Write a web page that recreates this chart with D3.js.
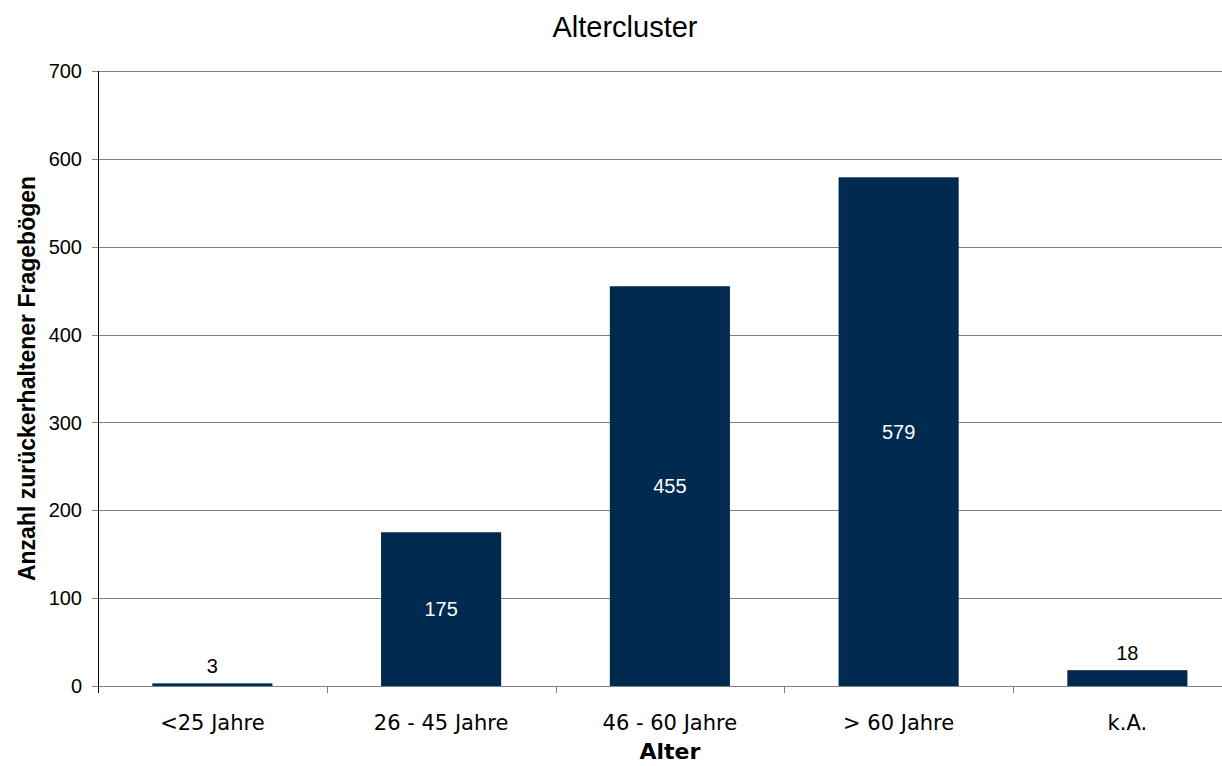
<!DOCTYPE html>
<html>
<head>
<meta charset="utf-8">
<script src="https://cdn.jsdelivr.net/npm/d3@7"></script>
<style>
  html, body { margin: 0; padding: 0; background: #fff; }
  svg { display: block; overflow: hidden; }
</style>
</head>
<body>
<svg id="chart" width="1222" height="766"></svg>
<script>
// Age groups and the number of returned questionnaires per group
const categories = ["<25 Jahre", "26 - 45 Jahre", "46 - 60 Jahre", "> 60 Jahre", "k.A."];
const counts = [3, 175, 455, 579, 18];
const yTicks = [0, 100, 200, 300, 400, 500, 600, 700];

const svg = d3.select("#chart");
const plotLeft = 98, plotTop = 71, plotBottom = 686;
const bandW = 228.75;
const plotRight = plotLeft + bandW * categories.length;

const x = d3.scaleBand().domain(categories).range([plotLeft, plotRight]).paddingInner(0.475).paddingOuter(0.2375);
const y = d3.scaleLinear().domain([0, 700]).range([plotBottom, plotTop]);

const sans = "'Liberation Sans', Arial, sans-serif";
const deja = "'DejaVu Sans', Verdana, sans-serif";

// horizontal gridlines
svg.append("g").selectAll("line").data(yTicks).join("line")
  .attr("x1", plotLeft - 6).attr("x2", plotRight)
  .attr("y1", d => Math.round(y(d)) + 0.5).attr("y2", d => Math.round(y(d)) + 0.5)
  .attr("stroke", "#808080").attr("stroke-width", 1);

// y tick labels
svg.append("g").selectAll("text").data(yTicks).join("text")
  .attr("x", plotLeft - 16).attr("y", d => y(d))
  .attr("dy", "0.36em").attr("text-anchor", "end")
  .attr("font-family", sans).attr("font-size", 20)
  .attr("fill", "#000").text(d => d);

// x-axis category separators
const edges = d3.range(categories.length + 1).map(i => plotLeft + i * bandW);
svg.append("g").selectAll("line").data(edges.slice(1)).join("line")
  .attr("x1", d => Math.round(d) + 0.5).attr("x2", d => Math.round(d) + 0.5)
  .attr("y1", plotBottom).attr("y2", plotBottom + 7)
  .attr("stroke", "#808080");

// bars
svg.append("g").selectAll("rect").data(categories).join("rect")
  .attr("x", d => x(d)).attr("width", x.bandwidth())
  .attr("y", (d, i) => y(counts[i])).attr("height", (d, i) => plotBottom - y(counts[i]))
  .attr("fill", "#002a4f");

// value labels: inside tall bars (white), above short bars (black)
svg.append("g").selectAll("text").data(categories).join("text")
  .attr("x", d => x(d) + x.bandwidth() / 2)
  .attr("y", (d, i) => counts[i] > 50 ? (y(counts[i]) + plotBottom) / 2 : y(counts[i]) - 10)
  .attr("dy", (d, i) => counts[i] > 50 ? "0.36em" : "0")
  .attr("text-anchor", "middle")
  .attr("font-family", sans).attr("font-size", 20)
  .attr("fill", (d, i) => counts[i] > 50 ? "#fff" : "#000")
  .text((d, i) => counts[i]);

// left axis line
svg.append("line").attr("x1", plotLeft + 0.5).attr("x2", plotLeft + 0.5)
  .attr("y1", plotTop).attr("y2", plotBottom + 7).attr("stroke", "#000");

// category labels
svg.append("g").selectAll("text").data(categories).join("text")
  .attr("x", d => x(d) + x.bandwidth() / 2).attr("y", 730)
  .attr("text-anchor", "middle")
  .attr("font-family", deja).attr("font-size", 21)
  .attr("fill", "#000").text(d => d);

// title
svg.append("text").attr("x", 625).attr("y", 37).attr("text-anchor", "middle")
  .attr("font-family", sans).attr("font-size", 29)
  .text("Altercluster");

// axis titles, centred on the plot area
svg.append("text").attr("x", (plotLeft + plotRight) / 2).attr("y", 759).attr("text-anchor", "middle")
  .attr("font-family", deja).attr("font-weight", "bold").attr("font-size", 22)
  .text("Alter");

svg.append("text").attr("transform", `translate(35,${(plotTop + plotBottom) / 2}) rotate(-90)`).attr("text-anchor", "middle")
  .attr("font-family", sans).attr("font-weight", "bold").attr("font-size", 23)
  .text("Anzahl zurückerhaltener Fragebögen");
</script>
</body>
</html>
